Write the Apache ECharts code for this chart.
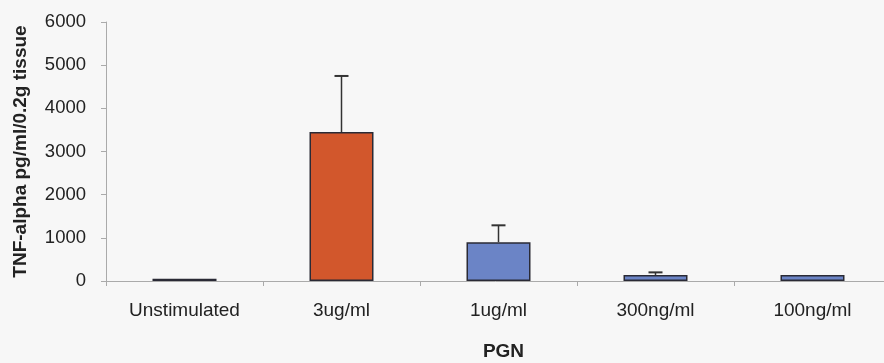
<!DOCTYPE html>
<html><head><meta charset="utf-8">
<script src="https://cdn.jsdelivr.net/npm/echarts@6/dist/echarts.min.js"></script>
<style>html,body{margin:0;padding:0;background:#f7f7f7}#c{width:884px;height:363px}</style>
</head><body><div id="c"></div>
<script>
const categories = ['Unstimulated', '3ug/ml', '1ug/ml', '300ng/ml', '100ng/ml'];
const values = [50, 3450, 900, 140, 140];
const errorTops = [50, 4750, 1290, 200, 140];
const barColors = ['#3a4560', '#d2572c', '#6b84c6', '#6b84c6', '#6b84c6'];
const yTicks = [0, 1000, 2000, 3000, 4000, 5000, 6000];

const chart = echarts.init(document.getElementById('c'), null, {renderer: 'canvas'});
chart.setOption({
  backgroundColor: '#f7f7f7',
  animation: false,
  grid: {left: 106, top: 22, width: 785, height: 259, containLabel: false, outerBoundsMode: 'none'},
  xAxis: {
    type: 'category', data: categories,
    name: 'PGN', nameLocation: 'middle', nameGap: 61,
    nameTextStyle: {fontFamily: 'Liberation Sans', fontWeight: 'bold', fontSize: 19, color: '#222', padding: [0, 0, 0, 10]},
    axisLine: {lineStyle: {color: '#aaa'}},
    axisTick: {show: true, length: 5, lineStyle: {color: '#aaa'}},
    axisLabel: {fontFamily: 'Liberation Sans', fontSize: 19, color: '#222', margin: 20}
  },
  yAxis: {
    type: 'value', min: yTicks[0], max: yTicks[yTicks.length - 1], interval: 1000,
    name: 'TNF-alpha pg/ml/0.2g tissue', nameLocation: 'middle', nameGap: 76,
    nameTextStyle: {fontFamily: 'Liberation Sans', fontWeight: 'bold', fontSize: 19, color: '#222'},
    axisLine: {show: true, lineStyle: {color: '#aaa'}},
    axisTick: {show: true, length: 5, lineStyle: {color: '#aaa'}},
    splitLine: {show: false},
    axisLabel: {fontFamily: 'Liberation Sans', fontSize: 18.5, color: '#222', margin: 20,
      formatter: v => String(v)}
  },
  series: [
    {
      type: 'bar', barWidth: 64,
      data: values.map((v, i) => ({value: v, itemStyle: {color: barColors[i]}})),
      itemStyle: {borderColor: '#2a2a35', borderWidth: 1.5}
    },
    {
      type: 'custom',
      data: values.map((v, i) => [i, v, errorTops[i]]),
      renderItem: function (params, api) {
        const x = api.coord([api.value(0), api.value(1)])[0];
        const yb = api.coord([api.value(0), api.value(1)])[1];
        const yt = api.coord([api.value(0), api.value(2)])[1];
        if (yb - yt < 1) return null;
        const w = 7;
        return {
          type: 'group',
          children: [
            {type: 'line', shape: {x1: x, y1: yb, x2: x, y2: yt}, style: {stroke: '#333', lineWidth: 1.5}},
            {type: 'line', shape: {x1: x - w, y1: yt, x2: x + w, y2: yt}, style: {stroke: '#333', lineWidth: 2}}
          ]
        };
      },
      z: 5
    }
  ]
});
</script></body></html>
